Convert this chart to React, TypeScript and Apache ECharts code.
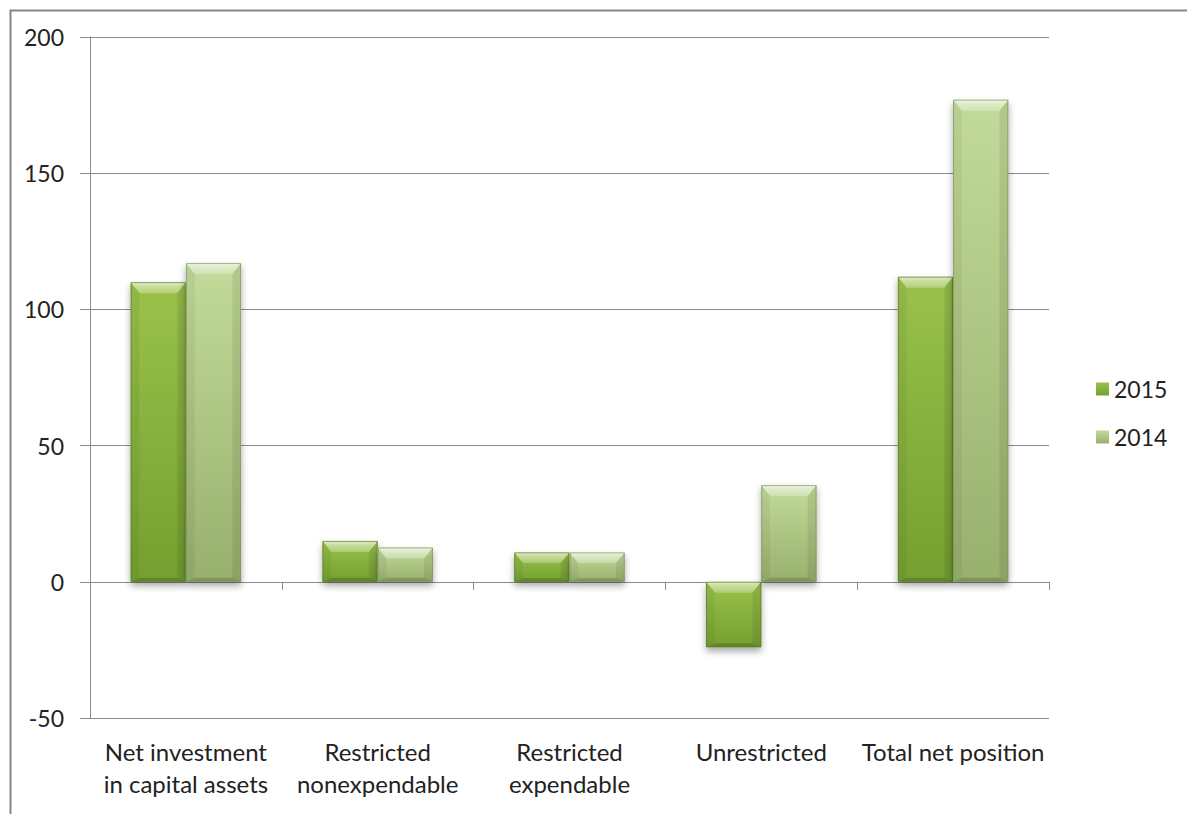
import { useEffect, useRef } from "react";
import * as echarts from "echarts";

// Net position by component, in millions
const categories = [
  "Net investment\nin capital assets",
  "Restricted\nnonexpendable",
  "Restricted\nexpendable",
  "Unrestricted",
  "Total net position",
];
const seriesNames = ["2015", "2014"];
const values2015 = [110, 15, 10.8, -24, 112];
const values2014 = [117, 12.6, 10.8, 35.5, 177];
const yMin = -50;
const yMax = 200;
const yStep = 50;

const FONT = "Lato, 'Open Sans', sans-serif";
const FONT_SIZE = 23;
const BAR_FRACTION = 0.288; // width of one bar relative to its category band

type Palette = { top: string; bottom: string; edge: string };
const palettes: Palette[] = [
  { top: "#9ac24b", bottom: "#74a030", edge: "#5c7a2a" },
  { top: "#c2db9a", bottom: "#98b06d", edge: "#7d935c" },
];

const faceGradient = (p: Palette) =>
  new echarts.graphic.LinearGradient(0, 0, 0, 1, [
    { offset: 0, color: p.top },
    { offset: 1, color: p.bottom },
  ]);

// Bevelled bar: face rectangle with a light top facet, faint side facets and a dark bottom lip
function bevelBar(slot: number, pal: Palette) {
  return (_params: any, api: any) => {
    const idx = api.value(0);
    const val = api.value(1);
    const p = api.coord([idx, val]);
    const z = api.coord([idx, 0]);
    const catW = api.size([1, 0])[0];
    const w = catW * BAR_FRACTION;
    const x = p[0] - w + slot * w;
    const y = Math.min(p[1], z[1]);
    const h = Math.abs(z[1] - p[1]);
    const x1 = x + w;
    const y1 = y + h;
    const t = Math.min(11, h * 0.36);
    const s = Math.min(9, w * 0.16);
    const b = Math.min(4, h * 0.12);
    return {
      type: "group",
      children: [
        {
          type: "rect",
          shape: { x, y, width: w, height: h },
          style: {
            fill: faceGradient(pal),
            shadowBlur: 7,
            shadowOffsetY: 4,
            shadowColor: "rgba(0,0,0,0.35)",
          },
        },
        {
          type: "polygon",
          shape: { points: [[x, y], [x1, y], [x1 - s, y + t], [x + s, y + t]] },
          style: {
            fill: new echarts.graphic.LinearGradient(0, 0, 0, 1, [
              { offset: 0, color: "rgba(255,255,255,0.8)" },
              { offset: 0.3, color: "rgba(255,255,255,0.5)" },
              { offset: 1, color: "rgba(255,255,255,0.25)" },
            ]),
          },
        },
        {
          type: "polygon",
          shape: { points: [[x, y], [x + s, y + t], [x + s, y1 - b], [x, y1]] },
          style: { fill: "rgba(0,0,0,0.05)" },
        },
        {
          type: "polygon",
          shape: { points: [[x1, y], [x1, y1], [x1 - s, y1 - b], [x1 - s, y + t]] },
          style: { fill: "rgba(0,0,0,0.08)" },
        },
        {
          type: "polygon",
          shape: { points: [[x, y1], [x + s, y1 - b], [x1 - s, y1 - b], [x1, y1]] },
          style: { fill: "rgba(0,0,0,0.16)" },
        },
        {
          type: "rect",
          shape: { x: x + 0.5, y: y + 0.5, width: w - 1, height: h - 1 },
          style: { fill: "none", stroke: pal.edge, lineWidth: 1, opacity: 0.7 },
        },
      ],
    };
  };
}

export default function App() {
  const ref = useRef<HTMLDivElement>(null);

  useEffect(() => {
    if (!ref.current) return;
    const chart = echarts.init(ref.current, undefined, { renderer: "svg" });
    const seriesValues = [values2015, values2014];

    chart.setOption({
      animation: false,
      backgroundColor: "#ffffff",
      textStyle: { fontFamily: FONT },
      grid: { left: 90, right: 138, top: 37, bottom: 96, containLabel: false },
      legend: {
        orient: "vertical",
        left: 1091,
        top: 372,
        icon: "rect",
        itemWidth: 13,
        itemHeight: 13,
        itemGap: 24,
        data: seriesNames,
        textStyle: { fontFamily: FONT, fontSize: FONT_SIZE, color: "#222", lineHeight: 24, padding: [0, 0, 0, 0] },
      },
      xAxis: [
        {
          type: "category",
          data: categories,
          axisLine: { onZero: true, lineStyle: { color: "#8c8c8c", width: 1 } },
          axisTick: { show: true, length: 8, lineStyle: { color: "#8c8c8c" } },
          axisLabel: { show: false },
          splitLine: { show: false },
        },
        {
          type: "category",
          data: categories,
          position: "bottom",
          axisLine: { show: false, onZero: false },
          axisTick: { show: false },
          axisLabel: {
            show: true,
            interval: 0,
            margin: 17,
            fontFamily: FONT,
            fontSize: 24,
            lineHeight: 32,
            color: "#222",
            align: "center",
          },
        },
      ],
      yAxis: {
        type: "value",
        min: yMin,
        max: yMax,
        interval: yStep,
        axisLine: { show: true, lineStyle: { color: "#8c8c8c", width: 1 } },
        axisTick: { show: true, length: 10, lineStyle: { color: "#8c8c8c" } },
        axisLabel: { margin: 26, fontFamily: FONT, fontSize: FONT_SIZE, color: "#222" },
        splitLine: { show: true, lineStyle: { color: "#8c8c8c", width: 1 } },
      },
      graphic: [
        {
          type: "rect",
          left: 8,
          top: 8,
          shape: { x: 0, y: 0, width: 1200, height: 900 },
          style: { fill: "none", stroke: "#868686", lineWidth: 2 },
          silent: true,
        },
      ],
      series: seriesNames.map((name, si) => ({
        name,
        type: "custom",
        xAxisIndex: 0,
        renderItem: bevelBar(si, palettes[si]),
        itemStyle: { color: faceGradient(palettes[si]) },
        encode: { x: 0, y: 1 },
        data: seriesValues[si].map((v, i) => [i, v]),
        z: 3,
      })),
    });

    return () => chart.dispose();
  }, []);

  return (
    <div
      ref={ref}
      style={{ position: "fixed", left: 0, top: 0, width: 1187, height: 814 }}
    />
  );
}
